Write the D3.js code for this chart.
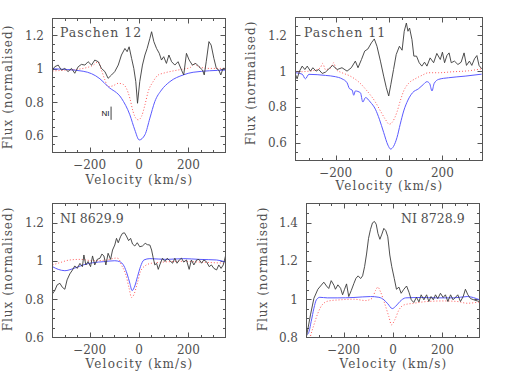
<!DOCTYPE html>
<html>
<head>
<meta charset="utf-8">
<script src="https://cdn.jsdelivr.net/npm/d3@7"></script>
<style>
  body { margin: 0; background: #fff; }
  svg text { font-family: "DejaVu Serif", serif; fill: #505050; }
</style>
</head>
<body>
<div id="chart"></div>
<script>
// velocity range shared by all panels
var velDomain = [-350, 350];

// Paschen 12: observed (black), model (red dotted), model (blue)
var p12ObsV = [-350,-341,-327,-314,-300,-287,-273,-260,-246,-233,-219,-206,-192,-179,-165,-152,-138,-125,-111,-98,-84,-71,-57,-48,-40,-30,-21,-13,-6,3,14,24,33,44,51,60,71,82,91,100,111,121,132,145,158,172,181,192,203,216,230,243,257,264,272,283,292,303,313,323,331,340,350];
var p12ObsF = [0.992,1.012,1.022,0.992,1.002,0.983,1.002,0.973,1.012,1.026,1.022,1.042,1.022,1.052,1.042,1.002,0.983,0.943,0.963,0.983,1.022,1.082,1.121,1.102,1.131,1.062,1.002,0.923,0.794,0.923,1.022,1.082,1.121,1.181,1.221,1.162,1.121,1.092,1.052,1.072,1.032,1.082,1.042,1.022,1.042,0.992,0.963,1.092,1.052,1.022,1.032,1.012,0.992,0.963,1.042,1.162,1.141,1.062,1.002,0.992,0.963,1.002,1.002];
var p12RedV = [-350,-293,-226,-185,-165,-152,-138,-125,-104,-84,-64,-51,-37,-24,-13,-3,10,24,37,57,78,98,138,179,206,226,239,287,350];
var p12RedF = [0.987,0.992,1.002,1.022,1.042,0.992,0.933,0.893,0.899,0.913,0.907,0.883,0.824,0.744,0.705,0.695,0.715,0.784,0.863,0.923,0.963,0.973,0.987,0.998,1.006,1.032,1.012,1.002,1.002];
var p12BlueV = [-350,-226,-158,-125,-71,-37,-17,1,24,44,64,91,125,179,219,350];
var p12BlueF = [1.0,0.985,0.94,0.893,0.824,0.725,0.635,0.575,0.606,0.705,0.804,0.873,0.923,0.963,0.979,0.992];
var niMark = { v: -113, f: [0.695, 0.774] };

// Paschen 11
var p11ObsV = [-350,-344,-335,-325,-315,-306,-294,-285,-273,-263,-250,-238,-225,-211,-194,-176,-157,-141,-126,-116,-103,-91,-79,-66,-55,-45,-32,-20,-10,-1,7,17,27,39,49,57,65,71,77,86,93,103,113,123,133,142,154,167,179,192,200,208,217,225,233,245,258,270,281,290,301,310,320,329,337,347];
var p11ObsF = [0.982,0.957,1.000,1.028,1.009,1.028,1.000,1.019,1.000,1.009,0.987,0.994,1.013,1.032,1.009,1.019,1.000,1.019,1.056,1.019,1.065,1.112,1.124,1.158,1.180,1.139,1.056,0.972,0.907,0.861,0.926,1.009,1.093,1.139,1.117,1.223,1.269,1.223,1.241,1.176,1.084,1.084,1.047,1.028,1.050,1.028,1.074,1.047,1.099,1.065,1.106,1.047,1.088,1.102,1.047,1.056,1.037,1.050,1.102,1.032,1.056,1.032,1.069,1.087,1.032,1.013];
var p11RedV = [-350,-313,-275,-257,-248,-238,-219,-207,-198,-176,-145,-113,-82,-51,-32,-14,1,11,30,42,55,73,98,123,148,186,235,298,347];
var p11RedF = [0.995,0.998,1.006,1.019,1.043,1.009,1.017,1.047,1.009,0.991,0.972,0.939,0.889,0.827,0.777,0.731,0.703,0.712,0.772,0.833,0.889,0.931,0.957,0.976,0.991,0.991,0.996,1.002,1.013];
var p11BlueV = [-350,-325,-313,-300,-238,-201,-176,-157,-148,-138,-132,-126,-107,-98,-88,-70,-51,-36,-20,-4,6,17,30,42,55,71,88,111,129,142,152,161,169,186,223,285,347];
var p11BlueF = [0.991,0.983,0.957,0.982,0.976,0.969,0.957,0.935,0.902,0.894,0.865,0.889,0.879,0.827,0.852,0.827,0.787,0.731,0.657,0.586,0.564,0.579,0.629,0.703,0.777,0.838,0.879,0.902,0.926,0.941,0.931,0.889,0.931,0.954,0.963,0.972,0.983];

// NI 8629.9
var n8629ObsV = [-350,-341,-331,-320,-310,-300,-291,-280,-269,-260,-250,-239,-229,-223,-215,-206,-196,-188,-179,-169,-158,-150,-142,-134,-125,-115,-107,-98,-91,-84,-75,-67,-59,-51,-42,-34,-26,-17,-7,3,14,25,34,44,51,57,64,71,78,84,95,105,114,125,136,145,154,163,172,181,192,203,212,222,233,243,253,262,273,284,293,303,314,323,332,341,350];
var n8629ObsF = [0.828,0.845,0.875,0.883,0.862,0.852,0.901,0.932,0.953,0.974,0.961,0.987,0.970,1.031,0.979,0.997,0.970,1.026,0.979,1.008,1.014,1.036,1.026,0.979,1.040,1.008,1.057,1.083,1.118,1.095,1.126,1.144,1.147,1.130,1.106,1.118,1.088,1.078,1.095,1.074,1.078,1.092,1.085,1.083,1.057,1.019,0.979,0.988,0.956,0.979,1.014,0.997,1.014,1.001,0.988,1.014,0.988,1.005,1.014,0.994,1.005,0.956,1.005,0.979,1.005,1.008,0.988,1.005,0.996,0.970,0.979,0.961,0.953,0.979,0.961,0.979,1.026];
var n8629RedV = [-350,-320,-280,-239,-185,-131,-91,-83,-71,-53,-40,-30,-21,-7,6,24,51,98,179,246,350];
var n8629RedF = [0.979,0.991,1.005,1.008,1.001,1.005,1.015,1.012,0.979,0.927,0.857,0.809,0.823,0.883,0.944,0.974,0.988,0.994,0.998,0.994,0.988];
var n8629BlueV = [-350,-327,-300,-266,-226,-185,-145,-98,-78,-61,-48,-37,-28,-17,-6,6,20,44,111,179,246,314,350];
var n8629BlueF = [0.970,0.956,0.949,0.960,0.979,0.991,0.996,1.001,0.996,0.974,0.932,0.883,0.845,0.869,0.918,0.970,1.005,1.012,1.008,1.012,1.008,1.005,0.994];

// NI 8728.9
var n8728ObsV = [-350,-334,-320,-304,-293,-280,-269,-260,-250,-239,-233,-223,-212,-204,-196,-188,-179,-169,-158,-150,-141,-131,-123,-115,-107,-99,-91,-83,-75,-68,-61,-53,-45,-37,-29,-21,-13,-5,5,14,24,33,44,55,65,74,84,95,105,114,125,136,145,154,163,172,181,192,203,212,222,233,243,253,262,273,284,293,303,314,327,341,350];
var n8728ObsF = [0.806,0.918,1.005,1.052,1.069,1.089,1.069,1.056,1.097,1.073,1.052,1.075,1.057,1.023,1.052,1.080,1.014,1.045,1.083,1.109,1.122,1.108,1.122,1.170,1.236,1.318,1.365,1.399,1.406,1.392,1.344,1.313,1.340,1.370,1.358,1.326,1.231,1.170,1.109,1.052,1.063,1.031,1.052,1.069,1.035,0.997,0.983,1.010,0.986,1.023,0.997,1.023,0.988,1.014,0.997,1.023,1.003,1.031,1.009,1.023,0.988,1.023,0.997,1.010,1.023,0.988,1.014,1.052,1.023,1.003,0.997,0.991,0.988];
var n8728RedV = [-350,-334,-320,-304,-287,-260,-212,-158,-111,-84,-71,-61,-51,-34,-17,-6,6,24,44,84,138,206,260,300,350];
var n8728RedF = [0.700,0.806,0.866,0.927,0.970,0.991,0.997,1.000,0.993,1.005,1.045,1.063,1.040,0.979,0.910,0.866,0.889,0.944,0.970,0.979,0.988,0.991,0.988,0.979,0.986];
var n8728BlueV = [-350,-342,-331,-320,-310,-296,-266,-226,-158,-91,-57,-37,-21,-3,10,28,51,111,179,246,300,350];
var n8728BlueF = [0.814,0.823,0.884,0.953,0.997,1.010,1.007,1.007,1.009,1.014,1.010,0.997,0.976,0.951,0.962,0.988,1.007,1.009,1.007,1.007,1.014,0.997];

// axis ticks
var velTicks = [-200, 0, 200];
var yTicksA = [0.6, 0.8, 1, 1.2];
var yTicksB = [0.8, 1, 1.2, 1.4];

var svg = d3.select("#chart").append("svg")
    .attr("width", 510)
    .attr("height", 382);

var panels = [
    { title: "Paschen 12", box: [52.5, 225.5, 18.5, 152.5], yDom: [0.5, 1.3], yTicks: yTicksA,
      obs: [p12ObsV, p12ObsF], red: [p12RedV, p12RedF], blue: [p12BlueV, p12BlueF],
      titleX: 60, titleY: 37, titleSp: 1, ylabY: 87, ylabX: 12, xlabY: 184, niMark: niMark },
    { title: "Paschen 11", box: [295.5, 482.5, 17.5, 160.5], yDom: [0.5, 1.3], yTicks: yTicksA,
      obs: [p11ObsV, p11ObsF], red: [p11RedV, p11RedF], blue: [p11BlueV, p11BlueF],
      titleX: 304, titleY: 36.5, titleSp: 1, ylabY: 83, ylabX: 255, xlabY: 190 },
    { title: "NI 8629.9", box: [52.5, 225.5, 203.5, 337.5], yDom: [0.6, 1.3], yTicks: yTicksA,
      obs: [n8629ObsV, n8629ObsF], red: [n8629RedV, n8629RedF], blue: [n8629BlueV, n8629BlueF],
      titleX: 60, titleY: 223, titleSp: 0, ylabY: 269, ylabX: 12, xlabY: 368 },
    { title: "NI 8728.9", box: [306.5, 479.5, 203.5, 337.5], yDom: [0.8, 1.5], yTicks: yTicksB,
      obs: [n8728ObsV, n8728ObsF], red: [n8728RedV, n8728RedF], blue: [n8728BlueV, n8728BlueF],
      titleX: 401, titleY: 223, titleSp: 0, ylabY: 269, ylabX: 267, xlabY: 368 }
];

var fmt = d3.format("");

panels.forEach(function (p, i) {
    var x0 = p.box[0], x1 = p.box[1], y0 = p.box[2], y1 = p.box[3];
    var x = d3.scaleLinear().domain(velDomain).range([x0, x1]);
    var y = d3.scaleLinear().domain(p.yDom).range([y1, y0]);
    var g = svg.append("g");

    // clip the curves to the plot box
    g.append("clipPath").attr("id", "clip" + i)
        .append("rect").attr("x", x0).attr("y", y0)
        .attr("width", x1 - x0).attr("height", y1 - y0);

    // ticks on all four sides, pointing in (pgplot style)
    var xMinor = d3.range(velDomain[0], velDomain[1] + 1, 50).filter(function (v) { return v > velDomain[0] && v < velDomain[1]; });
    var yMinor = d3.range(Math.round(p.yDom[0] * 20) + 1, Math.round(p.yDom[1] * 20)).map(function (k) { return k / 20; });

    var ax = g.append("g").attr("stroke", "#555").attr("stroke-width", 1);
    xMinor.forEach(function (v) {
        var len = velTicks.indexOf(v) >= 0 ? 5 : 2.5;
        var px = Math.round(x(v)) + 0.5;
        ax.append("line").attr("x1", px).attr("x2", px).attr("y1", y1).attr("y2", y1 - len);
        ax.append("line").attr("x1", px).attr("x2", px).attr("y1", y0).attr("y2", y0 + len);
    });
    yMinor.forEach(function (f) {
        var major = Math.abs(f * 5 - Math.round(f * 5)) < 1e-6;
        var len = major ? 5 : 2.5;
        var py = Math.round(y(f)) + 0.5;
        ax.append("line").attr("x1", x0).attr("x2", x0 + len).attr("y1", py).attr("y2", py);
        ax.append("line").attr("x1", x1).attr("x2", x1 - len).attr("y1", py).attr("y2", py);
    });

    // tick labels
    g.selectAll(".xt").data(velTicks).enter().append("text")
        .attr("x", function (d) { return x(d); })
        .attr("y", y1 + 16)
        .attr("text-anchor", "middle")
        .style("font-size", "12px")
        .text(function (d) { return d < 0 ? "\u2212" + (-d) : d; });
    g.selectAll(".yt").data(p.yTicks).enter().append("text")
        .attr("x", x0 - 8.5)
        .attr("y", function (d) { return y(d) + 4.5; })
        .attr("text-anchor", "end")
        .style("font-size", "12px")
        .text(function (d) { return fmt(d); });

    // axis titles
    g.append("text")
        .attr("x", (x0 + x1) / 2 + 0.5).attr("y", p.xlabY)
        .attr("text-anchor", "middle")
        .style("font-size", "12px")
        .style("letter-spacing", "1.2px")
        .text("Velocity (km/s)");
    g.append("text")
        .attr("transform", "translate(" + p.ylabX + "," + p.ylabY + ") rotate(-90)")
        .attr("text-anchor", "middle")
        .style("font-size", "12px")
        .style("letter-spacing", "1px")
        .text("Flux (normalised)");

    // spectra
    var curves = g.append("g").attr("clip-path", "url(#clip" + i + ")");
    function draw(pair, color, dash, curve, w) {
        var pts = pair[0].map(function (v, k) { return [v, pair[1][k]]; });
        curves.append("path")
            .datum(pts)
            .attr("fill", "none")
            .attr("stroke", color)
            .attr("stroke-width", w)
            .attr("stroke-dasharray", dash)
            .attr("d", d3.line()
                .x(function (d) { return x(d[0]); })
                .y(function (d) { return y(d[1]); })
                .curve(curve));
    }
    draw(p.red, "#ff5a5a", "1,2", d3.curveMonotoneX, 1);
    draw(p.blue, "#5a5aff", null, d3.curveMonotoneX, 1);
    draw(p.obs, "#3a3a3a", null, d3.curveLinear, 0.9);

    // box
    g.append("rect").attr("x", x0).attr("y", y0)
        .attr("width", x1 - x0).attr("height", y1 - y0)
        .attr("fill", "none").attr("stroke", "#555").attr("stroke-width", 1);

    // panel title
    g.append("text")
        .attr("x", p.titleX).attr("y", p.titleY)
        .style("font-size", "12.5px")
        .style("letter-spacing", p.titleSp + "px")
        .text(p.title);

    // NI marker in the Paschen 12 panel
    if (p.niMark) {
        g.append("line")
            .attr("x1", x(p.niMark.v)).attr("x2", x(p.niMark.v))
            .attr("y1", y(p.niMark.f[0])).attr("y2", y(p.niMark.f[1]))
            .attr("stroke", "#111").attr("stroke-width", 0.8);
        g.append("text")
            .attr("x", x(p.niMark.v) - 1.5).attr("y", y(0.72))
            .attr("text-anchor", "end")
            .style("font-family", "Liberation Sans, sans-serif")
            .style("font-size", "8px")
            .style("fill", "#111")
            .text("NI");
    }
});
</script>
</body>
</html>
